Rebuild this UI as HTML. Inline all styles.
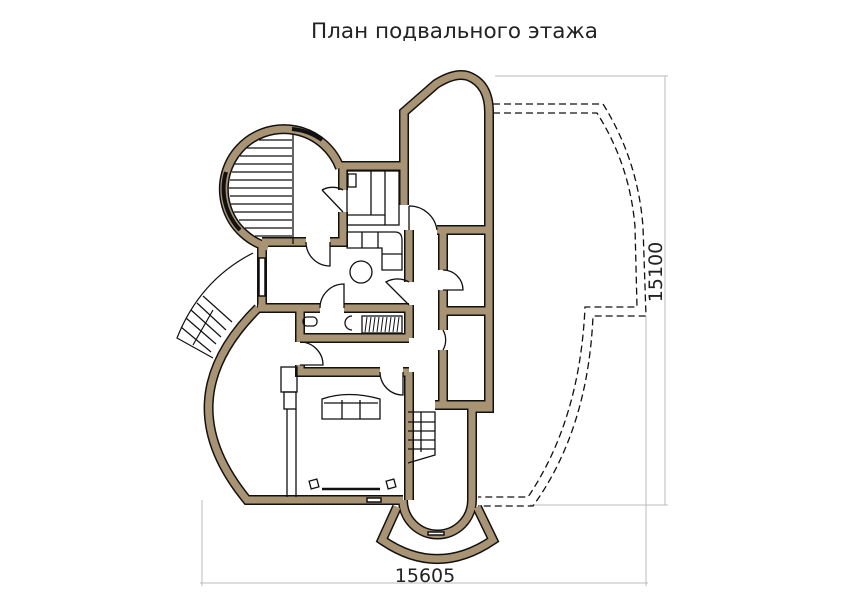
<!DOCTYPE html>
<html><head><meta charset="utf-8"><style>
html,body{margin:0;padding:0;background:#fff;width:854px;height:600px;overflow:hidden}
svg{display:block}
</style></head><body>
<svg width="854" height="600" viewBox="0 0 854 600" xmlns="http://www.w3.org/2000/svg">
<text x="311" y="38" textLength="287" lengthAdjust="spacingAndGlyphs" font-family="DejaVu Sans, sans-serif" font-size="21" fill="#222">План подвального этажа</text>

<g stroke="#bbb" stroke-width="1" fill="none">
<line x1="495" y1="76" x2="668" y2="76"/>
<line x1="665" y1="76" x2="665" y2="505"/>
<line x1="530" y1="505" x2="668" y2="505"/>
<line x1="646" y1="316" x2="646" y2="586"/>
<line x1="202" y1="500" x2="202" y2="586"/>
<line x1="200" y1="583" x2="648" y2="583"/>
</g>
<text x="425" y="582" text-anchor="middle" font-family="DejaVu Sans, sans-serif" font-size="19" fill="#222">15605</text>
<text transform="translate(662,272) rotate(-90)" text-anchor="middle" font-family="DejaVu Sans, sans-serif" font-size="19" fill="#222">15100</text>

<g stroke="#111" stroke-width="1.3" fill="none" stroke-dasharray="7,4">
<path d="M493,104 L603,104 Q638,160 643,227 L646,316 L593,316 Q588,430 533,506 L478,506"/>
<path d="M493,113 L597,113 Q630,165 635,227 L637,307 L585,307 Q580,420 528,497 L478,497"/>
</g>

<g stroke="#111" stroke-width="1.2" fill="none">
<path d="M253,253 Q200,280 177,338 L213,358"/>
<line x1="203" y1="296" x2="232" y2="322"/>
<line x1="197" y1="303" x2="226" y2="330"/>
<line x1="191" y1="310" x2="221" y2="337"/>
<line x1="186" y1="318" x2="216" y2="344"/>
<line x1="181" y1="327" x2="211" y2="352"/>
<line x1="213" y1="310" x2="193" y2="345"/>
</g>

<g fill="none" stroke-linejoin="miter">
<g stroke="#111" stroke-width="10">
<path d="M404,205 L404,112 L436,84 Q455,72 468,76 Q489,84 489,112 L489,408 L470,408"/>
<path d="M340,168 A60,60 0 1 0 268,247"/>
<path d="M340,166 L404,166"/>
<path d="M343,166 L343,190 M343,212 L343,242 L330,242 M306,242 L262,242"/>
<path d="M262,242 L262,308 M258,308 Q165,400 247,500 L403,500"/>
<path d="M258,308 L320,308 M344,308 L409,308"/>
<path d="M409,230 L409,282 M409,305 L409,338 M300,308 L300,342 M300,365 L300,372 L380,372 M403,372 L409,372 M300,338 L409,338"/>
<path d="M409,372 L409,500 M403,500 A34,34 0 0 0 472,500 L472,408"/>
<path d="M437,230 L489,230 M443,233 L443,270 M443,290 L443,330 M443,350 L443,405 M443,311 L489,311 M435,405 L489,405"/>
<path d="M397,507 L382,540 Q437,578 493,540 L477,507"/>
</g>
<g stroke="#a89373" stroke-width="7">
<path d="M404,205 L404,112 L436,84 Q455,72 468,76 Q489,84 489,112 L489,408 L470,408"/>
<path d="M340,168 A60,60 0 1 0 268,247"/>
<path d="M340,166 L404,166"/>
<path d="M343,166 L343,190 M343,212 L343,242 L330,242 M306,242 L262,242"/>
<path d="M262,242 L262,308 M258,308 Q165,400 247,500 L403,500"/>
<path d="M258,308 L320,308 M344,308 L409,308"/>
<path d="M409,230 L409,282 M409,305 L409,338 M300,308 L300,342 M300,365 L300,372 L380,372 M403,372 L409,372 M300,338 L409,338"/>
<path d="M409,372 L409,500 M403,500 A34,34 0 0 0 472,500 L472,408"/>
<path d="M437,230 L489,230 M443,233 L443,270 M443,290 L443,330 M443,350 L443,405 M443,311 L489,311 M435,405 L489,405"/>
<path d="M397,507 L382,540 Q437,578 493,540 L477,507"/>
</g>
</g>
<g stroke="#111" stroke-width="1.5" fill="#fff">
<rect x="259" y="258" width="6" height="38"/>
<rect x="367" y="498" width="14" height="4"/>
<rect x="428" y="532" width="16" height="3"/>
</g>
<path d="M292,129 A60,60 0 0 1 322,140" stroke="#111" stroke-width="4" fill="none"/>
<path d="M226,172 A60,60 0 0 0 240,230" stroke="#111" stroke-width="4" fill="none"/>

<g stroke="#111" stroke-width="1.3">
<line x1="293" y1="134" x2="293" y2="244"/>
<line x1="259" y1="140" x2="292" y2="140"/><line x1="247" y1="148" x2="292" y2="148"/>
<line x1="240" y1="156" x2="292" y2="156"/><line x1="235" y1="164" x2="292" y2="164"/>
<line x1="232" y1="172" x2="292" y2="172"/><line x1="230" y1="180" x2="292" y2="180"/>
<line x1="229" y1="188" x2="292" y2="188"/><line x1="230" y1="196" x2="292" y2="196"/>
<line x1="231" y1="204" x2="292" y2="204"/><line x1="234" y1="212" x2="292" y2="212"/>
<line x1="239" y1="220" x2="292" y2="220"/><line x1="245" y1="228" x2="292" y2="228"/>
<line x1="255" y1="236" x2="292" y2="236"/>
</g>

<g stroke="#111" stroke-width="1.3" fill="none">
<rect x="347" y="171" width="52" height="54"/>
<line x1="371" y1="171" x2="371" y2="215"/><line x1="385" y1="171" x2="385" y2="225"/>
<line x1="347" y1="215" x2="385" y2="215"/>
<rect x="348" y="174" width="8" height="13"/>
<path d="M343,190 A22,22 0 0 0 322,190 M343,212 L322,190" />
<path d="M347,232 L395,232 Q402,232 402,240 L402,270 L382,270 L382,248 L347,248 Z"/>
<line x1="362" y1="232" x2="362" y2="248"/><line x1="378" y1="232" x2="378" y2="248"/>
<line x1="382" y1="254" x2="402" y2="254"/>
<circle cx="361" cy="272" r="11"/>
<path d="M306,242 A24,24 0 0 0 330,266 L330,242"/>
<path d="M409,282 A23,23 0 0 0 386,282 L409,305"/>
<path d="M320,308 A24,24 0 0 1 344,284 L344,308"/>
<path d="M409,206 A28,28 0 0 1 437,230 M409,206 L409,230"/>
<path d="M443,270 A20,20 0 0 1 463,290 L443,290"/>
<path d="M443,330 A20,20 0 0 1 443,350"/>
<path d="M300,342 A23,23 0 0 1 323,365 L300,365"/>
<path d="M380,372 A23,23 0 0 0 403,395 L403,372"/>
<rect x="303" y="317" width="14" height="9" rx="4"/>
<path d="M352,316 A7,7 0 0 0 352,330"/>
<rect x="362" y="316" width="40" height="17"/>
<g stroke-width="1"><path d="M365,332 L367,317 M369,332 L371,317 M373,332 L375,317 M377,332 L379,317 M381,332 L383,317 M385,332 L387,317 M389,332 L391,317 M393,332 L395,317 M397,332 L399,317"/></g>
<rect x="281" y="367" width="16" height="25"/>
<rect x="284" y="392" width="12" height="17"/>
<line x1="287" y1="409" x2="287" y2="497"/><line x1="296" y1="409" x2="296" y2="497"/>
<path d="M322,419 L322,399 Q348,390 380,399 L380,419 Z"/>
<line x1="324" y1="403" x2="378" y2="403"/>
<line x1="342" y1="400" x2="342" y2="419"/><line x1="360" y1="400" x2="360" y2="419"/>
<rect x="310" y="480" width="8" height="8" transform="rotate(-15 314 484)"/>
<rect x="387" y="480" width="8" height="8" transform="rotate(-15 391 484)"/>
<line x1="322" y1="489" x2="380" y2="489" stroke-width="2.5"/>
<path d="M408,412 L435,412 L435,455 L408,463"/>
<line x1="408" y1="422" x2="435" y2="422"/><line x1="408" y1="431" x2="435" y2="431"/>
<line x1="408" y1="440" x2="435" y2="440"/><line x1="408" y1="449" x2="435" y2="449"/>
<line x1="421" y1="412" x2="421" y2="452"/>
</g>
</svg>
</body></html>
